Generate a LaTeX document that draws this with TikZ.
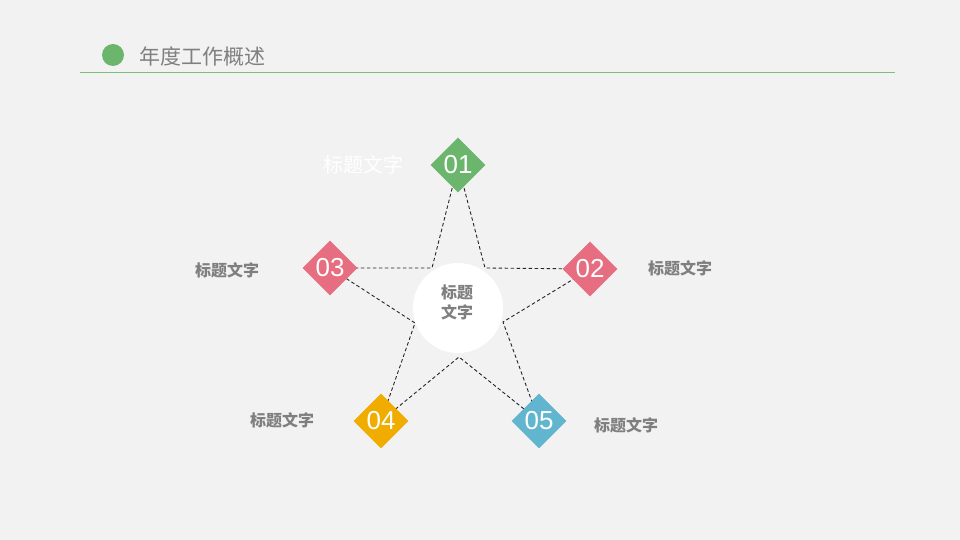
\documentclass[tikz,border=0pt]{standalone}
\usepackage{fontspec}
\setmainfont{Liberation Sans}
\newfontfamily\cjk{Noto Sans CJK SC}
\usepackage{xcolor}
\definecolor{bg_gray}{HTML}{F2F2F2}
\definecolor{leaf_green}{HTML}{6BB56D}
\definecolor{rule_green}{HTML}{7DBE7A}
\definecolor{rose_red}{HTML}{E66E80}
\definecolor{sun_yellow}{HTML}{F0AD00}
\definecolor{sky_blue}{HTML}{62B5CE}
\definecolor{text_gray}{HTML}{7F7F7F}
\usetikzlibrary{shapes.geometric}

\begin{document}
\begin{tikzpicture}[x=1pt, y=-1pt]
\tikzset{
    badge/.style={diamond, aspect=1, minimum width=55pt, minimum height=55pt,
      inner sep=0pt, text=white, font=\fontsize{26}{26}\selectfont},
    sidetext/.style={text=text_gray, font=\cjk\bfseries\fontsize{16}{16}\selectfont},
    starline/.style={black!85, line width=0.9pt, dash pattern=on 3.5pt off 2.5pt}
}
\useasboundingbox[fill=bg_gray] (0,0) rectangle (960,540);
% header
\node[circle, fill=leaf_green, minimum size=22pt, inner sep=0pt] (dot) at (113,55) {};
\node[anchor=west, text=text_gray, font=\cjk\fontsize{21}{21}\selectfont] (title) at (136,57) {年度工作概述};
\coordinate (rule_l) at (80,73);
\coordinate (rule_r) at (895,73);
\draw[rule_green, line width=1pt] (rule_l) -- (rule_r);
% corners of the star
\coordinate (p1) at (458,165);
\coordinate (p2) at (590,269);
\coordinate (p3) at (330,268);
\coordinate (p4) at (381,421);
\coordinate (p5) at (539,421);
\coordinate (i1) at (485,268);
\coordinate (i2) at (503,322);
\coordinate (i3) at (459,357);
\coordinate (i4) at (415,323);
\coordinate (i5) at (432,268);
% star outline
\draw[starline] (p1) -- (i1) -- (p2) -- (i2) -- (p5) -- (i3)
  -- (p4) -- (i4) -- (p3) -- (i5) -- cycle;
% centre
\node[circle, fill=white, minimum size=90pt, inner sep=0pt] (hub) at (458,308) {};
\node[align=center, text=text_gray, font=\cjk\bfseries\fontsize{16}{20}\selectfont] (hubtext) at (457,302) {标题\\文字};
% diamonds
\foreach \n/\c in {1/leaf_green, 2/rose_red, 3/rose_red, 4/sun_yellow, 5/sky_blue}
  \node[badge, fill=\c] (d\n) at (p\n) {0\n};
% captions
\node[text=white, font=\cjk\fontsize{20}{20}\selectfont] (t1) at (363,165) {标题文字};
\node[sidetext] (t2) at (680,268) {标题文字};
\node[sidetext] (t3) at (227,270) {标题文字};
\node[sidetext] (t4) at (282,420) {标题文字};
\node[sidetext] (t5) at (626,425) {标题文字};
\end{tikzpicture}
\end{document}
